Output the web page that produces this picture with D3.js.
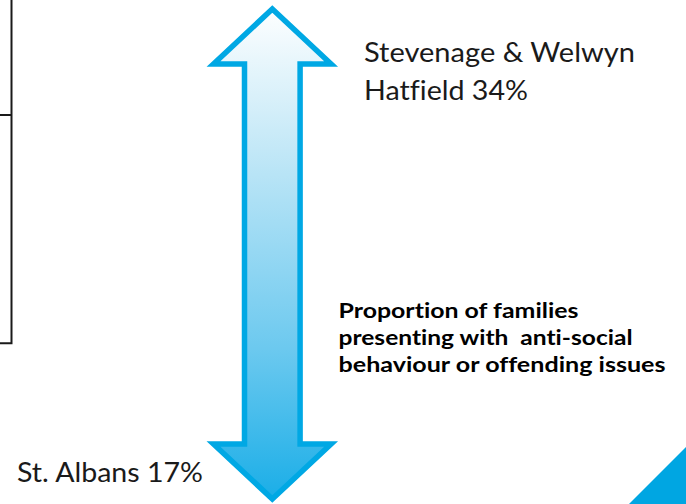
<!DOCTYPE html>
<html>
<head>
<meta charset="utf-8">
<script src="https://cdn.jsdelivr.net/npm/d3@7"></script>
<style>
  html, body { margin: 0; padding: 0; background: #ffffff; }
  svg { display: block; }
  text { font-variant-ligatures: none; font-feature-settings: "liga" 0; }
</style>
</head>
<body>
<script>
// Share of families presenting with anti-social behaviour or offending issues
const regions = ["Stevenage & Welwyn Hatfield", "St. Albans"];
const shares = [34, 17];
const regionLines = [["Stevenage & Welwyn", "Hatfield"], ["St. Albans"]];
const titleLines = [
  "Proportion of families",
  "presenting with  anti-social",
  "behaviour or offending issues"
];

const W = 686, H = 504;
const svg = d3.select("body").append("svg")
  .attr("width", W).attr("height", H);

// Vertical value scale: the arrow runs from the lowest share (bottom tip) to the highest (top tip)
const y = d3.scaleLinear()
  .domain([d3.min(shares), d3.max(shares)])
  .range([499, 9]);

const cx = 272.3;          // arrow axis
const headHalf = 58.8;     // half width of arrow heads
const headLen = 55;        // height of arrow heads
const shaftHalf = 27.8;    // half width of shaft

// Left-hand frame fragment
const frame = svg.append("g").attr("stroke", "#1a1a1a").attr("stroke-width", 2).attr("fill", "none");
frame.append("path").attr("d", "M0,115 H11.5 M11.5,0 V343.3 H0");

// Gradient for the arrow body
const defs = svg.append("defs");
const grad = defs.append("linearGradient")
  .attr("id", "arrowFill")
  .attr("gradientUnits", "userSpaceOnUse")
  .attr("x1", 0).attr("x2", 0)
  .attr("y1", y.range()[1] - 4).attr("y2", y.range()[0] + 4);
[[0, "#ffffff"], [0.29, "#c3e8f7"], [0.69, "#6cc9ef"], [1, "#18ade7"]].forEach(([o, c]) => {
  grad.append("stop").attr("offset", o).attr("stop-color", c);
});

// Double-headed arrow spanning the two shares
const yHigh = y(d3.max(shares)), yLow = y(d3.min(shares));
const p = d3.path();
p.moveTo(cx, yHigh);
p.lineTo(cx + headHalf, yHigh + headLen);
p.lineTo(cx + shaftHalf, yHigh + headLen);
p.lineTo(cx + shaftHalf, yLow - headLen);
p.lineTo(cx + headHalf, yLow - headLen);
p.lineTo(cx, yLow);
p.lineTo(cx - headHalf, yLow - headLen);
p.lineTo(cx - shaftHalf, yLow - headLen);
p.lineTo(cx - shaftHalf, yHigh + headLen);
p.lineTo(cx - headHalf, yHigh + headLen);
p.closePath();

svg.append("path")
  .attr("d", p.toString())
  .attr("fill", "url(#arrowFill)")
  .attr("stroke", "#00a8e4")
  .attr("stroke-width", 5.5)
  .attr("stroke-linejoin", "miter");

// Corner accent
svg.append("path")
  .attr("d", "M686,447 L629,504 L686,504 Z")
  .attr("fill", "#00a6e2");

// Region labels
const font = "Lato, 'Open Sans', sans-serif";
const labelSpecs = [
  { x: 364, y0: y(shares[0]) + 53, dy: 38, widths: [271, 164] },
  { x: 17,  y0: y(shares[1]) - 17, dy: 38, widths: [186] }
];
regions.forEach((name, i) => {
  const lines = regionLines[i].slice();
  lines[lines.length - 1] = lines[lines.length - 1] + " " + shares[i] + "%";
  const spec = labelSpecs[i];
  lines.forEach((t, j) => {
    svg.append("text")
      .attr("x", spec.x)
      .attr("y", spec.y0 + j * spec.dy)
      .attr("font-family", font)
      .attr("font-size", 27)
      .attr("fill", "#1a1a1a")
      .attr("textLength", spec.widths[j])
      .attr("lengthAdjust", "spacingAndGlyphs")
      .text(t);
  });
});

// Bold description
const titleWidths = [240, 294, 327];
titleLines.forEach((t, j) => {
  svg.append("text")
    .attr("x", 338.5)
    .attr("y", 318 + j * 27)
    .attr("font-family", font)
    .attr("font-weight", "bold")
    .attr("font-size", 21.5)
    .attr("fill", "#000000")
    .style("white-space", "pre")
    .attr("textLength", titleWidths[j])
    .attr("lengthAdjust", "spacingAndGlyphs")
    .text(t);
});
</script>
</body>
</html>
